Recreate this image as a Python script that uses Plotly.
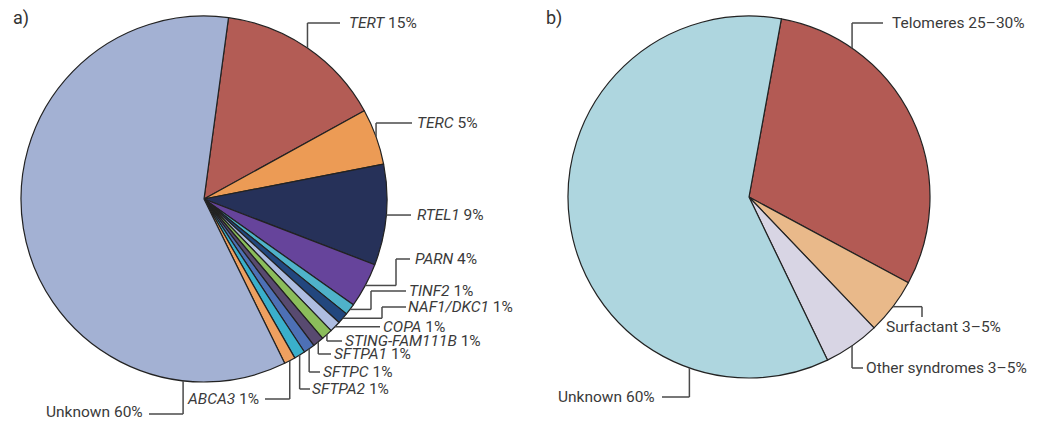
import math
import plotly.graph_objects as go

W, H = 1043, 421

# ---------------- data ----------------
a_labels = ["TERT", "TERC", "RTEL1", "PARN", "TINF2", "NAF1/DKC1", "COPA",
            "STING-FAM111B", "SFTPA1", "SFTPC", "SFTPA2", "ABCA3", "Unknown"]
a_values = [15, 5, 9, 4, 1, 1, 1, 1, 1, 1, 1, 1, 60]
a_text = ["<i>TERT</i> 15%", "<i>TERC</i> 5%", "<i>RTEL1</i> 9%", "<i>PARN</i> 4%",
          "<i>TINF2</i> 1%", "<i>NAF1/DKC1</i> 1%", "<i>COPA</i> 1%",
          "<i>STING-FAM111B</i> 1%", "<i>SFTPA1</i> 1%", "<i>SFTPC</i> 1%",
          "<i>SFTPA2</i> 1%", "<i>ABCA3</i> 1%", "Unknown 60%"]
a_colors = ["#b35c55", "#ec9b55", "#263159", "#66449b", "#4fb2c9", "#22477e",
            "#aebde1", "#8bbd5b", "#584a70", "#4d70b6", "#3aafcb", "#eea060",
            "#a3b1d3"]

b_labels = ["Telomeres", "Surfactant", "Other syndromes", "Unknown"]
b_values = [30, 5, 5, 60]
b_text = ["Telomeres 25\u201330%", "Surfactant 3\u20135%",
          "Other syndromes 3\u20135%", "Unknown 60%"]
b_colors = ["#b35a54", "#e9b98a", "#d8d5e4", "#aed6df"]

# ---------------- layout (pixels) ----------------
A = dict(cx=204, cy=199, r=183, rot=7.7)
B = dict(cx=749, cy=197, r=181, rot=10.3)

# anchor position inside each slice (fraction of slice), leader path, text pos
a_anchor = [0.5] * 12 + [0.153]
a_paths = [
    ([("v", 23), ("h", 340)], (348, 23, "left")),
    ([("v", 123), ("h", 412)], (416, 123, "left")),
    ([("h", 411)], (416, None, "left")),
    ([("h", 396), ("v", 259), ("h", 410)], (414, 259, "left")),
    ([("h", 371), ("v", 291), ("h", 406)], (408, 291, "left")),
    ([("h", 382), ("v", 307), ("h", 406)], (407, 307, "left")),
    ([("h", 380)], (382, None, "left")),
    ([("v", 341), ("h", 342)], (344, 341, "left")),
    ([("v", 354), ("h", 331)], (333, 354, "left")),
    ([("v", 372), ("h", 320)], (322, 372, "left")),
    ([("v", 389), ("h", 310)], (311, 389, "left")),
    ([("v", 399), ("h", 265)], (260, 399, "right")),
    ([("v", 414), ("h", 149)], (144, 412, "right")),
]
b_anchor = [0.226, 0.5, 0.5, 0.208]
b_paths = [
    ([("v", 23), ("h", 883)], (891, 23, "left")),
    ([("h", 922), ("v", 317)], (885, 327, "left")),
    ([("v", 368), ("h", 863)], (865, 368, "left")),
    ([("v", 397), ("h", 662)], (656, 397, "right")),
]

FONT = "Roboto"
FS = 15.5
TXT = "#3a3a3a"
LINE = "#4a4a4a"


def px(x):
    return x / W


def py(y):
    return 1 - y / H


fig = go.Figure()


def add_pie(P, labels, values, colors):
    fig.add_trace(go.Pie(
        labels=labels, values=values, sort=False, direction="clockwise",
        rotation=P["rot"], textinfo="none", hoverinfo="label+percent",
        marker=dict(colors=colors, line=dict(color="#222222", width=1.2)),
        domain=dict(x=[px(P["cx"] - P["r"]), px(P["cx"] + P["r"])],
                    y=[py(P["cy"] + P["r"]), py(P["cy"] - P["r"])]),
        showlegend=False))


def add_leaders(P, values, anchors, paths, texts):
    total = float(sum(values))
    cum = 0.0
    for v, f, (path, tpos), t in zip(values, anchors, paths, texts):
        ang = math.radians(P["rot"] + (cum + f * v) / total * 360.0)
        cum += v
        x0 = P["cx"] + P["r"] * math.sin(ang)
        y0 = P["cy"] - P["r"] * math.cos(ang)
        for kind, val in path:
            x1, y1 = (x0, val) if kind == "v" else (val, y0)
            fig.add_shape(type="line", xref="paper", yref="paper",
                          x0=px(x0), y0=py(y0), x1=px(x1), y1=py(y1),
                          line=dict(color=LINE, width=1.5))
            x0, y0 = x1, y1
        tx, ty, side = tpos
        if ty is None:
            ty = y0
        fig.add_annotation(x=px(tx), y=py(ty), xref="paper", yref="paper",
                           text=t, showarrow=False, xanchor=side,
                           yanchor="middle", borderpad=0,
                           font=dict(family=FONT, size=FS, color=TXT))


add_pie(A, a_labels, a_values, a_colors)
add_pie(B, b_labels, b_values, b_colors)
add_leaders(A, a_values, a_anchor, a_paths, a_text)
add_leaders(B, b_values, b_anchor, b_paths, b_text)

for lab, x in (("a)", 11), ("b)", 544)):
    fig.add_annotation(x=px(x), y=py(18), xref="paper", yref="paper",
                       text=lab, showarrow=False, xanchor="left",
                       yanchor="middle",
                       font=dict(family=FONT, size=18, color="#333333"))

fig.update_layout(width=W, height=H, autosize=False,
                  margin=dict(l=0, r=0, t=0, b=0),
                  paper_bgcolor="white", plot_bgcolor="white")

fig.write_html("out.html", config={"displayModeBar": False},
               post_script="document.body.style.margin='0px';"
                           "document.body.style.padding='0px';"
                           "document.body.style.overflow='hidden';")
